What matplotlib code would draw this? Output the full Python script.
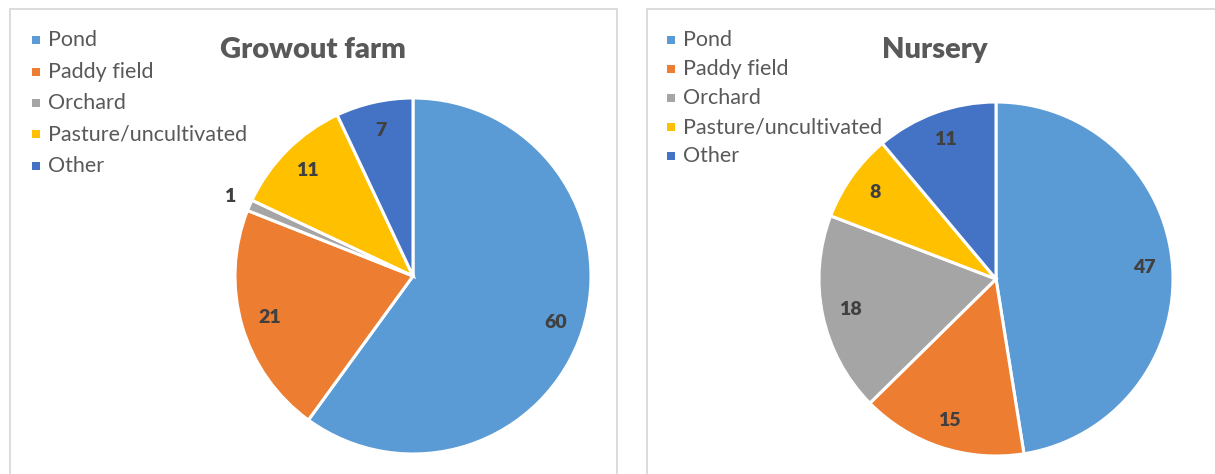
import numpy as np
import matplotlib.pyplot as plt
from matplotlib.patches import Rectangle

plt.rcParams['font.family'] = ['Lato', 'DejaVu Sans']

categories = ["Pond", "Paddy field", "Orchard", "Pasture/uncultivated", "Other"]
growout = [60, 21, 1, 11, 7]
nursery = [47, 15, 18, 8, 11]
colors = ["#5B9BD5", "#ED7D31", "#A5A5A5", "#FFC000", "#4472C4"]

W, H = 1215, 474
fig = plt.figure(figsize=(W / 100, H / 100), dpi=100)
fig.patch.set_facecolor("white")


def px_axes(cx, cy, r):
    # axes box in figure fraction from pixel centre and radius
    return fig.add_axes([(cx - r) / W, (H - cy - r) / H, 2 * r / W, 2 * r / H])


def draw_panel(values, title, box, center, radius, title_xy, legend_xy, legend_step):
    x0, y0, x1 = box
    fig.patches.append(Rectangle((x0 / W, -0.1), (x1 - x0) / W, 1.1 - y0 / H,
                                 transform=fig.transFigure, fill=False,
                                 edgecolor="#d9d9d9", linewidth=1.3))

    ax = px_axes(center[0], center[1], radius)
    wedges, _ = ax.pie(values, colors=colors, startangle=90, counterclock=False,
                       wedgeprops=dict(edgecolor="white", linewidth=2.2))
    ax.set_xlim(-1, 1)
    ax.set_ylim(-1, 1)
    ax.set_aspect("equal")

    for w, v in zip(wedges, values):
        mid = np.deg2rad((w.theta1 + w.theta2) / 2)
        d = 1.12 if v < 3 else 0.84
        ax.text(d * np.cos(mid), d * np.sin(mid), str(v), ha="center", va="center",
                fontsize=14, fontweight="heavy", color="#404040", clip_on=False)

    fig.text(title_xy[0] / W, 1 - title_xy[1] / H, title, ha="center", va="center",
             fontsize=21, fontweight="heavy", color="#595959")

    lx, ly = legend_xy
    for i, (name, c) in enumerate(zip(categories, colors)):
        y = ly + i * legend_step
        fig.patches.append(Rectangle(((lx - 4) / W, 1 - (y + 4) / H), 8 / W, 8 / H,
                                     transform=fig.transFigure, facecolor=c,
                                     edgecolor="none"))
        fig.text((lx + 12) / W, 1 - y / H, name, ha="left", va="center",
                 fontsize=15.5, color="#595959")


draw_panel(growout, "Growout farm", (10, 9, 617), (413, 276), 178,
           (313, 50), (36, 40), 31.5)
draw_panel(nursery, "Nursery", (647, 9, 1220), (996, 279), 177,
           (935, 50), (671, 40), 29)

fig.savefig("out.png", dpi=100)
